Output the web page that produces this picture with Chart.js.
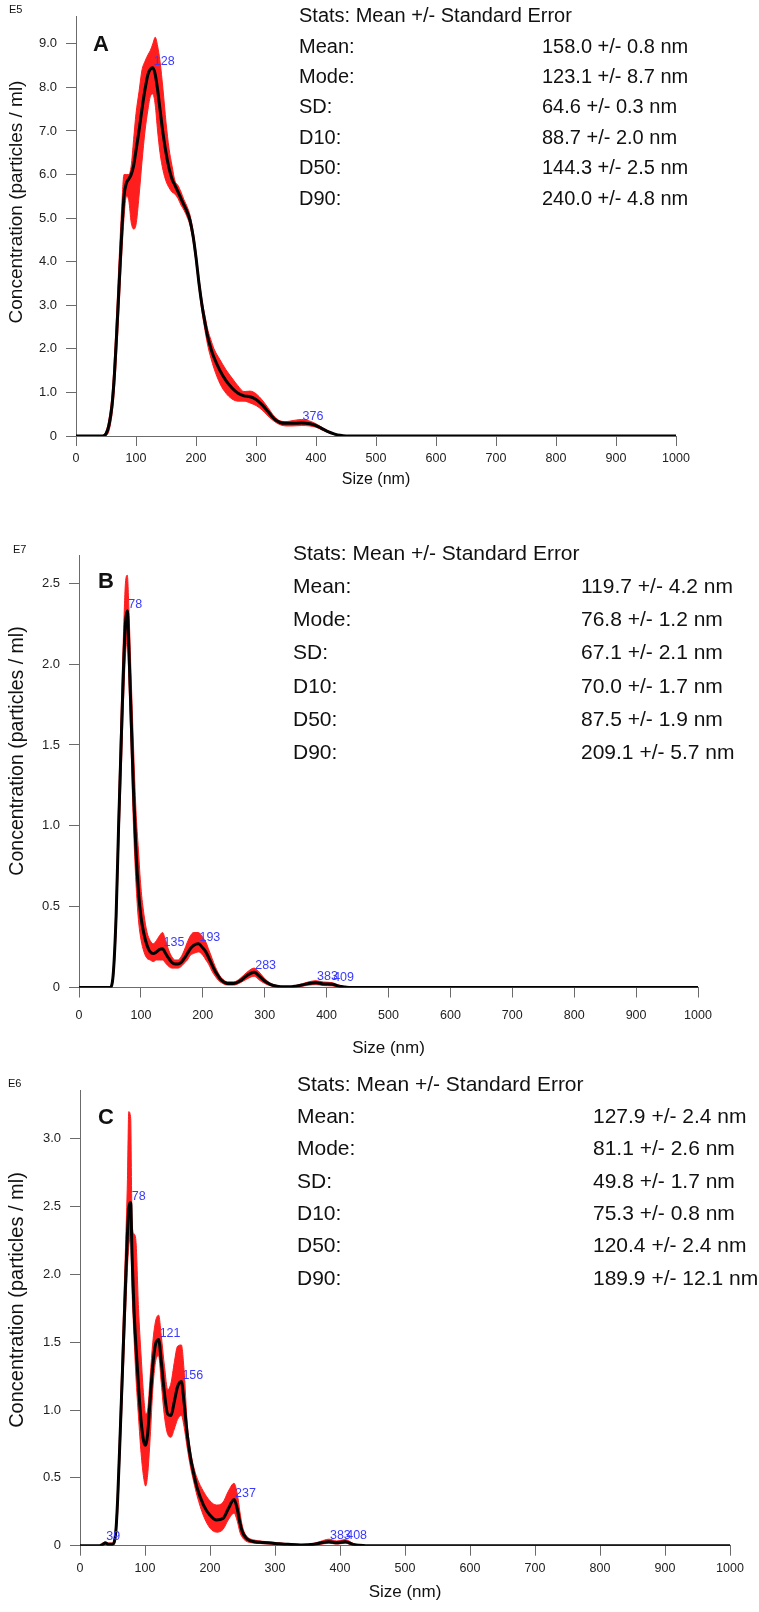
<!DOCTYPE html>
<html><head><meta charset="utf-8">
<script src="https://cdn.jsdelivr.net/npm/chart.js@4.4.0/dist/chart.umd.min.js"></script>
<style>
html,body{margin:0;padding:0;background:#fff;}
body{width:759px;height:1612px;position:relative;overflow:hidden;font-family:'Liberation Sans',Arial,Helvetica,sans-serif;color:#111;}
canvas{position:absolute;left:0;}
.t{position:absolute;white-space:nowrap;}
</style></head><body>
<canvas id="cA" width="759" height="500" style="top:0px"></canvas>
<canvas id="cB" width="759" height="560" style="top:500px"></canvas>
<canvas id="cC" width="759" height="552" style="top:1060px"></canvas>
<div id="texts"></div>
<script>
// ---------- shared ----------
const xTicks = [0,100,200,300,400,500,600,700,800,900,1000];
const statLabels = ['Mean:','Mode:','SD:','D10:','D50:','D90:'];
const statsTitle = 'Stats: Mean +/- Standard Error';

// ---------- Panel A (E5) ----------
const sizesA = [0,40,45,50,55,60,64,68,72,76,80,84,88,92,96,100,105,110,115,120,124,128,132,136,140,145,150,155,160,165,170,175,180,185,190,195,200,205,210,215,220,225,230,240,250,260,270,280,290,300,310,320,330,340,350,360,376,390,400,410,420,430,440,450,1000];
const meanA  = [0,0,0,0.05,0.25,0.7,1.4,2.4,3.5,4.6,5.5,5.8,5.9,6.0,6.2,6.55,7.0,7.5,7.95,8.3,8.42,8.45,8.3,7.95,7.5,6.95,6.5,6.15,5.9,5.75,5.6,5.45,5.3,5.15,4.95,4.6,4.1,3.5,3.0,2.6,2.25,2.0,1.8,1.5,1.27,1.1,0.98,0.92,0.9,0.84,0.72,0.56,0.4,0.31,0.29,0.29,0.3,0.28,0.24,0.17,0.1,0.05,0.015,0,0];
const upperA = [0,0,0.02,0.1,0.4,0.95,1.8,2.9,4.1,5.2,6.0,6.0,6.0,6.2,6.8,7.4,7.9,8.4,8.6,8.75,8.85,9.0,9.15,8.95,8.6,7.95,7.2,6.6,6.2,5.85,5.75,5.6,5.42,5.27,5.07,4.72,4.22,3.62,3.12,2.75,2.42,2.2,2.0,1.75,1.52,1.33,1.15,1.02,1.03,0.97,0.83,0.65,0.46,0.35,0.33,0.35,0.38,0.34,0.28,0.2,0.12,0.06,0.025,0.005,0];
const lowerA = [0,0,0,0.01,0.12,0.5,1.05,1.95,3.0,4.1,5.0,5.5,5.4,4.9,4.75,4.85,5.5,6.3,7.0,7.5,7.8,7.85,7.6,7.0,6.5,6.1,5.85,5.7,5.6,5.55,5.45,5.3,5.18,5.03,4.83,4.48,3.98,3.38,2.85,2.42,2.05,1.78,1.55,1.2,0.98,0.85,0.8,0.8,0.76,0.7,0.6,0.46,0.34,0.26,0.23,0.23,0.24,0.23,0.2,0.14,0.08,0.035,0.008,0,0];
const peaksA = [128,376];
const yTicksA = [0,1,2,3,4,5,6,7,8,9];
const statsA = ['158.0 +/- 0.8 nm','123.1 +/- 8.7 nm','64.6 +/- 0.3 nm','88.7 +/- 2.0 nm','144.3 +/- 2.5 nm','240.0 +/- 4.8 nm'];

// ---------- Panel B (E7) ----------
const sizesB = [0,50,55,60,64,68,72,75,78,81,84,88,92,96,100,105,110,115,120,125,130,135,140,145,150,155,160,165,170,175,180,185,193,200,205,210,215,220,225,230,240,250,260,270,283,290,300,310,320,330,340,350,360,370,383,395,409,420,430,440,1000];
const meanB  = [0,0,0.07,0.45,1.0,1.5,1.98,2.25,2.33,2.05,1.7,1.22,0.85,0.6,0.44,0.33,0.26,0.22,0.21,0.22,0.235,0.24,0.21,0.18,0.155,0.145,0.145,0.155,0.18,0.21,0.24,0.26,0.27,0.245,0.22,0.18,0.14,0.1,0.07,0.045,0.025,0.025,0.04,0.07,0.095,0.075,0.04,0.018,0.008,0.004,0.004,0.008,0.015,0.024,0.03,0.022,0.02,0.008,0.003,0,0];
const upperB = [0,0.005,0.1,0.55,1.15,1.7,2.2,2.5,2.55,2.3,1.95,1.5,1.1,0.85,0.62,0.45,0.34,0.29,0.27,0.29,0.32,0.34,0.29,0.23,0.19,0.17,0.17,0.19,0.23,0.28,0.32,0.34,0.34,0.31,0.28,0.23,0.18,0.13,0.09,0.06,0.035,0.035,0.055,0.09,0.12,0.1,0.055,0.025,0.012,0.006,0.006,0.012,0.022,0.034,0.042,0.034,0.03,0.015,0.005,0,0];
const lowerB = [0,0,0.04,0.35,0.85,1.3,1.78,2.05,2.15,1.85,1.5,1.0,0.65,0.42,0.3,0.22,0.18,0.17,0.16,0.17,0.17,0.17,0.15,0.13,0.12,0.12,0.12,0.13,0.15,0.17,0.2,0.21,0.22,0.2,0.17,0.14,0.1,0.07,0.045,0.03,0.015,0.015,0.028,0.05,0.07,0.05,0.025,0.01,0.004,0.002,0.002,0.004,0.008,0.014,0.018,0.012,0.01,0.003,0,0,0];
const peaksB = [78,135,193,283,383,409];
const yTicksB = [0,0.5,1.0,1.5,2.0,2.5];
const statsB = ['119.7 +/- 4.2 nm','76.8 +/- 1.2 nm','67.1 +/- 2.1 nm','70.0 +/- 1.7 nm','87.5 +/- 1.9 nm','209.1 +/- 5.7 nm'];

// ---------- Panel C (E6) ----------
const sizesC = [0,30,35,39,44,50,55,58,62,66,70,73,75,78,80,83,86,90,94,98,101,104,108,112,116,121,125,130,135,140,145,150,156,160,165,170,175,180,190,200,210,220,228,237,242,246,250,255,260,270,280,300,320,340,360,370,383,395,408,420,430,440,1000];
const meanC  = [0,0,0.01,0.02,0.01,0.01,0.1,0.35,0.85,1.38,1.92,2.3,2.48,2.53,2.15,1.75,1.48,1.18,0.92,0.77,0.74,0.82,1.08,1.33,1.48,1.52,1.36,1.12,0.97,0.96,1.06,1.17,1.21,1.06,0.82,0.65,0.53,0.43,0.3,0.225,0.19,0.2,0.27,0.34,0.27,0.17,0.1,0.06,0.04,0.028,0.024,0.017,0.01,0.005,0.01,0.02,0.03,0.022,0.03,0.01,0.003,0,0];
const upperC = [0,0,0.02,0.03,0.02,0.02,0.15,0.45,1.0,1.6,2.2,2.7,3.2,3.15,2.4,2.3,2.25,1.75,1.4,1.1,0.97,1.0,1.25,1.5,1.65,1.7,1.55,1.32,1.15,1.2,1.35,1.47,1.48,1.3,0.9,0.7,0.58,0.5,0.4,0.33,0.3,0.32,0.4,0.46,0.38,0.25,0.14,0.08,0.055,0.04,0.033,0.024,0.015,0.008,0.018,0.032,0.048,0.035,0.045,0.018,0.006,0,0];
const lowerC = [0,0,0,0.01,0.005,0.005,0.06,0.25,0.72,1.2,1.7,2.05,2.2,2.3,1.9,1.55,1.25,0.95,0.68,0.5,0.44,0.52,0.8,1.15,1.35,1.4,1.2,0.95,0.82,0.8,0.86,0.93,0.96,0.88,0.72,0.58,0.47,0.37,0.22,0.13,0.1,0.12,0.19,0.24,0.18,0.1,0.06,0.035,0.025,0.018,0.015,0.01,0.005,0.002,0.004,0.01,0.018,0.012,0.018,0.004,0,0,0];
const peaksC = [39,78,121,156,237,383,408];
const yTicksC = [0,0.5,1.0,1.5,2.0,2.5,3.0];
const statsC = ['127.9 +/- 2.4 nm','81.1 +/- 2.6 nm','49.8 +/- 1.7 nm','75.3 +/- 0.8 nm','120.4 +/- 2.4 nm','189.9 +/- 12.1 nm'];

// ---------- rendering ----------
const FONT = "'Liberation Sans', Arial, Helvetica, sans-serif";
const RED = 'rgb(255,30,30)';
const AXIS = '#6b6b6b';
function pts(xs, ys){ return xs.map((x,i)=>({x:x, y:ys[i]})); }

function makeChart(id, p){
  const deco = {
    id: 'deco_'+id,
    afterDatasetsDraw(chart){
      const ctx = chart.ctx, xs = chart.scales.x, ys = chart.scales.y;
      ctx.save();
      ctx.font = '12.5px ' + FONT;
      ctx.fillStyle = '#3a3aff';
      ctx.textAlign = 'left';
      ctx.textBaseline = 'alphabetic';
      p.peaks.forEach(s => {
        const i = p.sizes.indexOf(s);
        ctx.fillText(String(s), xs.getPixelForValue(s) + 1, ys.getPixelForValue(p.mean[i]) - 3);
      });
      ctx.restore();
      ctx.save();
      ctx.translate(p.yTitleX, p.yTitleY);
      ctx.rotate(-Math.PI/2);
      ctx.font = p.yTitleSize + 'px ' + FONT;
      ctx.fillStyle = '#111';
      ctx.textAlign = 'center';
      ctx.textBaseline = 'middle';
      ctx.fillText('Concentration (particles / ml)', 0, 0);
      ctx.restore();
    }
  };
  return new Chart(document.getElementById(id), {
    type: 'line',
    data: { datasets: [
      { label:'mean', data: pts(p.sizes, p.mean), borderColor:'#000', borderWidth:3, pointRadius:0, fill:false, cubicInterpolationMode:'monotone', order:0 },
      { label:'upper', data: pts(p.sizes, p.upper), borderColor:RED, borderWidth:1, backgroundColor:RED, pointRadius:0, fill:'+1', cubicInterpolationMode:'monotone', order:1 },
      { label:'lower', data: pts(p.sizes, p.lower), borderColor:RED, borderWidth:1, pointRadius:0, fill:false, cubicInterpolationMode:'monotone', order:2 }
    ]},
    options: {
      responsive:false, animation:false, devicePixelRatio:1,
      layout: { autoPadding:false, padding:{ top:p.top, right:p.right, left:0, bottom:0 } },
      plugins: { legend:{display:false}, tooltip:{enabled:false} },
      scales: {
        x: {
          type:'linear', min:0, max:1000,
          afterBuildTicks: ax => { ax.ticks = xTicks.map(v => ({value:v})); },
          afterFit: s => { s.height = p.xh; },
          ticks: { autoSkip:false, maxRotation:0, minRotation:0, padding:p.xTickPad, color:'#222', font:{family:FONT, size:12.5}, callback: v => String(v) },
          grid: { drawOnChartArea:false, drawTicks:true, tickLength:10, color:AXIS, lineWidth:1 },
          border: { display:true, color:AXIS, width:1 },
          title: { display:true, text:'Size (nm)', color:'#111', font:{family:FONT, size:p.xTitleSize}, padding:{top:0, bottom:p.xTitlePad} }
        },
        y: {
          type:'linear', min:0, max:p.ymax,
          afterBuildTicks: ax => { ax.ticks = p.yTicks.map(v => ({value:v})); },
          afterFit: s => { s.width = p.left; },
          ticks: { padding:9, color:'#222', font:{family:FONT, size:13}, callback: v => v === 0 ? '0' : Number(v).toFixed(1) },
          grid: { drawOnChartArea:false, drawTicks:true, tickLength:10, color:AXIS, lineWidth:1 },
          border: { display:true, color:AXIS, width:1 }
        }
      }
    },
    plugins: [deco]
  });
}

makeChart('cA', { sizes:sizesA, mean:meanA, upper:upperA, lower:lowerA, peaks:peaksA, yTicks:yTicksA,
  top:15, right:83, left:76, xh:64, ymax:9.62, xTickPad:5, xTitleSize:16, xTitlePad:11, yTitleX:17, yTitleY:202, yTitleSize:19 });
makeChart('cB', { sizes:sizesB, mean:meanB, upper:upperB, lower:lowerB, peaks:peaksB, yTicks:yTicksB,
  top:55, right:61, left:79, xh:72.5, ymax:2.675, xTickPad:11, xTitleSize:17, xTitlePad:1, yTitleX:18, yTitleY:251, yTitleSize:19.5 });
makeChart('cC', { sizes:sizesC, mean:meanC, upper:upperC, lower:lowerC, peaks:peaksC, yTicks:yTicksC,
  top:30, right:29, left:80, xh:66.3, ymax:3.36, xTickPad:5, xTitleSize:17, xTitlePad:9, yTitleX:17, yTitleY:240, yTitleSize:20 });

// ---------- text blocks ----------
const holder = document.getElementById('texts');
function addText(txt, left, centerY, size, bold){
  const d = document.createElement('div');
  d.className = 't';
  d.textContent = txt;
  d.style.left = left + 'px';
  d.style.top = (centerY - 0.49*size) + 'px';
  d.style.fontSize = size + 'px';
  d.style.lineHeight = size + 'px';
  if (bold) d.style.fontWeight = 'bold';
  holder.appendChild(d);
}
function addStats(vals, labelX, valueX, firstY, step, size){
  addText(statsTitle, labelX, firstY, size);
  statLabels.forEach((l,i) => {
    addText(l, labelX, firstY + step*(i+1), size);
    addText(vals[i], valueX, firstY + step*(i+1), size);
  });
}
addText('E5', 9, 9, 11); addText('A', 93, 44, 22, true);
addStats(statsA, 299, 542, 15, 30.4, 20);
addText('E7', 13, 549, 11); addText('B', 98, 581, 22, true);
addStats(statsB, 293, 581, 552, 33.2, 21);
addText('E6', 8, 1083, 11); addText('C', 98, 1117, 22, true);
addStats(statsC, 297, 593, 1083, 32.3, 21);
</script>
</body></html>
